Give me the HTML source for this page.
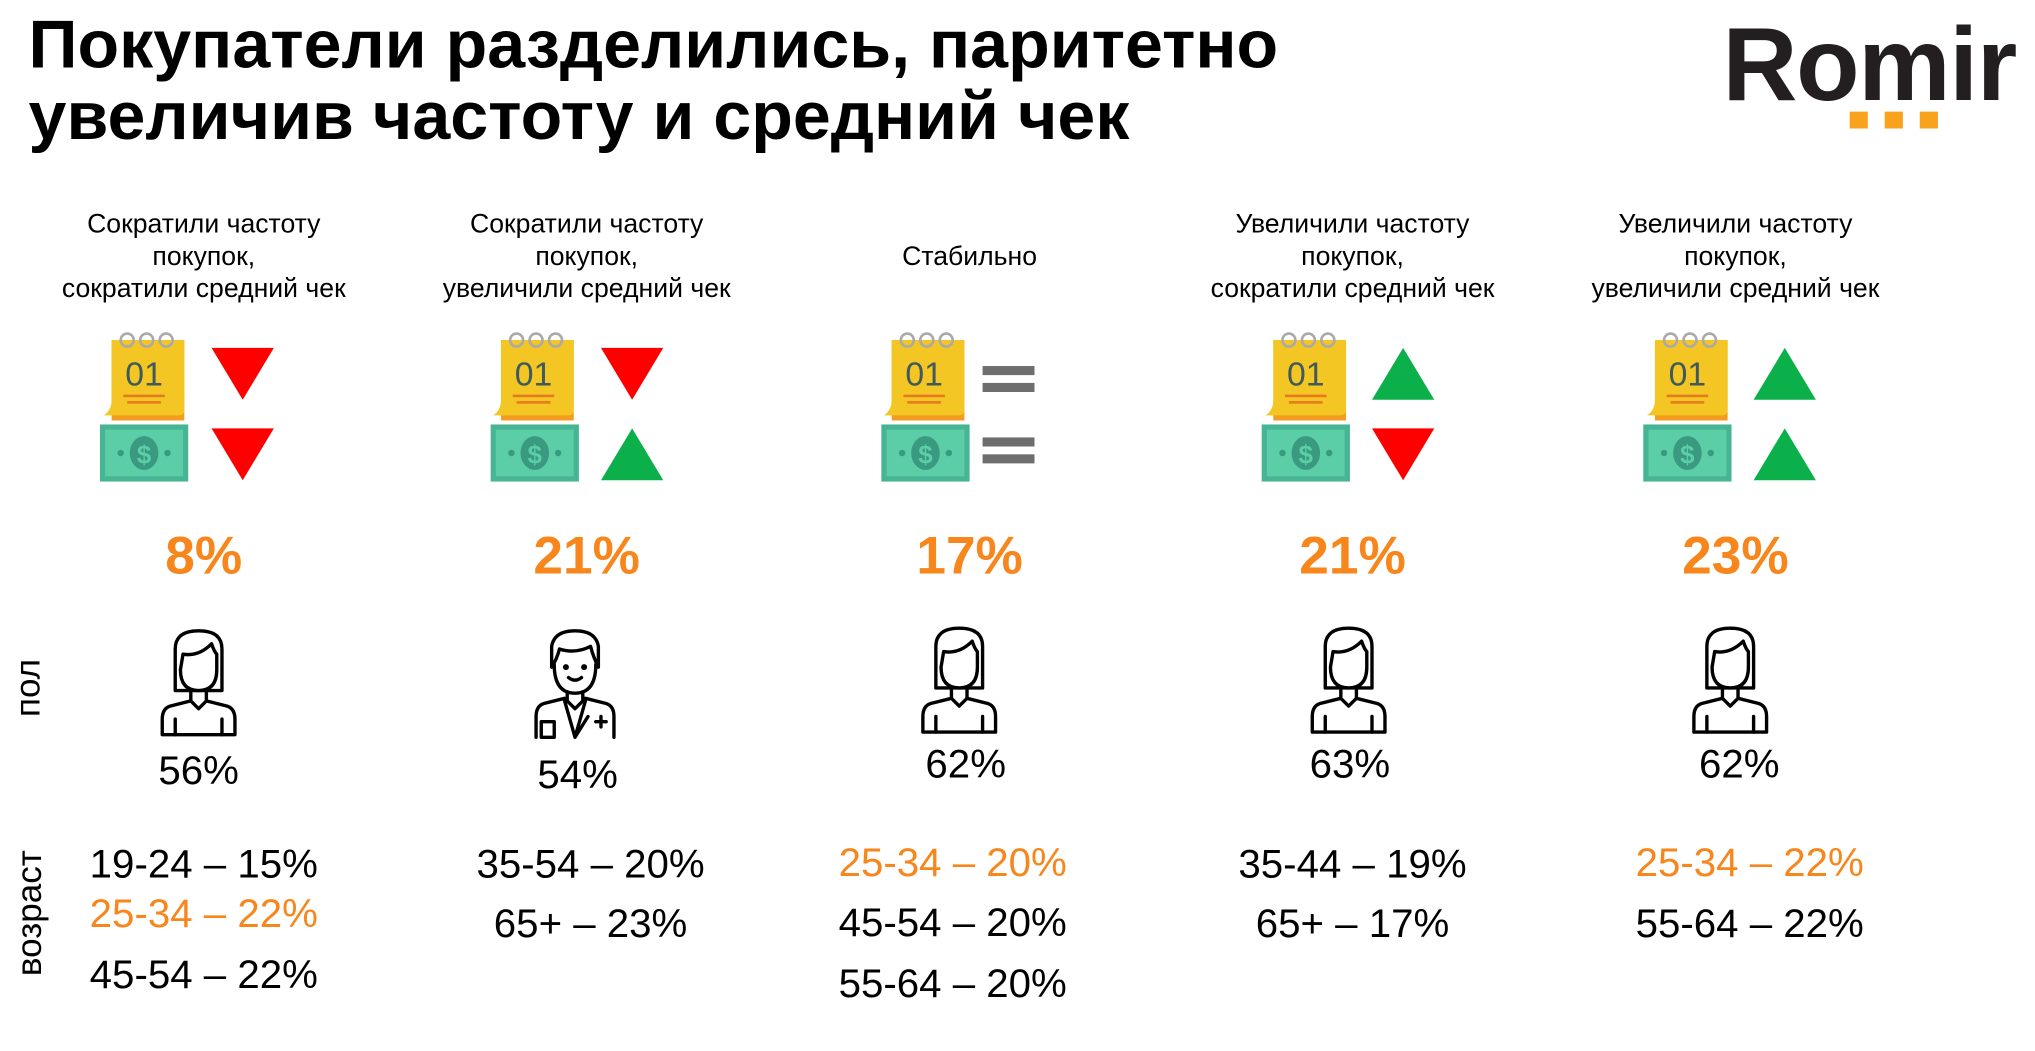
<!DOCTYPE html>
<html><head><meta charset="utf-8"><style>
html,body{margin:0;padding:0;background:#fff;overflow:hidden}
#w{width:2035px;height:1051px;position:relative;overflow:hidden}
#s{position:absolute;left:0;top:0;width:1570px;height:810px;transform:scale(1.298);transform-origin:0 0;font-family:"Liberation Sans","Noto Sans CJK SC",sans-serif;color:#000}
.a{position:absolute;white-space:nowrap}
.t{font-weight:bold;font-size:52.5px;line-height:56px;left:22px}
.h{font-size:20.5px;line-height:25px;text-align:center;width:300px}
.p{font-weight:bold;font-size:41px;color:#F7861C;text-align:center;width:200px}
.g{font-size:31px;text-align:center;width:200px}
.ag{font-size:31px;text-align:center;width:260px;line-height:46px}
.o{color:#F7861C}
</style></head><body><div id="w"><div id="s">
<div class="a t" style="top:7px">Покупатели разделились, паритетно</div>
<div class="a t" style="top:62px">увеличив частоту и средний чек</div>
<div class="a" style="left:1327px;top:4px;font-weight:bold;font-size:80px;color:#231f20;letter-spacing:-1px">Romir</div>
<div class="a" style="left:1425px;top:86px;width:14px;height:13px;background:#F9A21B"></div>
<div class="a" style="left:1452px;top:86px;width:14px;height:13px;background:#F9A21B"></div>
<div class="a" style="left:1479px;top:86px;width:14px;height:13px;background:#F9A21B"></div>

<div class="a" style="left:-8px;top:530px;transform:translate(0,-50%) rotate(-90deg);font-size:27px;width:60px;text-align:center">пол</div>
<div class="a" style="left:-37px;top:688px;transform:rotate(-90deg);font-size:27px;width:120px;text-align:center">возраст</div>

<svg width="0" height="0" style="position:absolute">
<defs>
<g id="cal">
<path d="M8 3 h56 v62 h-56 z" fill="#F39C1F"/>
<path d="M8 3 h56 v54 q0 4 -4 4 h-58 q6 -4 6 -12 z" fill="#F3C623"/>
<circle cx="20" cy="3" r="5" fill="none" stroke="#aaa" stroke-width="2"/>
<circle cx="35" cy="3" r="5" fill="none" stroke="#aaa" stroke-width="2"/>
<circle cx="50" cy="3" r="5" fill="none" stroke="#aaa" stroke-width="2"/>
<text x="33" y="38" font-family="Liberation Sans" font-size="26" fill="#3e5a5c" text-anchor="middle">01</text>
<rect x="17" y="45" width="32" height="2" fill="#E57B1E"/><rect x="20" y="50" width="26" height="2" fill="#E57B1E"/>
</g>
<g id="mon">
<rect x="0" y="0" width="68" height="44" fill="#47B594"/>
<rect x="4" y="4" width="60" height="36" fill="#5BCDA7"/>
<ellipse cx="34" cy="22" rx="11" ry="13" fill="#3A9A80"/>
<text x="34" y="30" font-family="Liberation Sans" font-weight="bold" font-size="20" fill="#5BCDA7" text-anchor="middle">$</text>
<circle cx="16" cy="22" r="2.5" fill="#3A9A80"/><circle cx="52" cy="22" r="2.5" fill="#3A9A80"/>
</g>
<path id="dn" d="M0 0 h48 l-24 40 z" fill="#FF0000"/>
<path id="up" d="M0 40 h48 l-24 -40 z" fill="#0CB04A"/>
<g id="eq"><rect x="0" y="0" width="40" height="7" fill="#6e6e6e"/><rect x="0" y="13" width="40" height="7" fill="#6e6e6e"/></g>
<g id="wom" fill="none" stroke="#000" stroke-width="2.6" stroke-linecap="round" stroke-linejoin="round">
<path d="M12 48 V16 Q12 2 30 2 Q48 2 48 16 V48 Z"/>
<path d="M18 20 Q30 22 40 12 Q42 18 44 20 V32 Q44 48 30 48 Q16 48 16 32 Z" fill="#fff"/>
<path d="M24 48 V56 L30 62 L36 56 V48"/>
<path d="M24 56 L8 60 Q2 62 2 70 V82 H58 V70 Q58 62 52 60 L36 56"/>
<path d="M12 70 V82 M48 70 V82"/>
</g>
<g id="man" fill="none" stroke="#000" stroke-width="2.6" stroke-linecap="round" stroke-linejoin="round">
<path d="M14 30 V14 Q16 2 32 2 Q48 2 50 14 V30 Q46 22 44 14 Q32 20 20 16 Q18 24 14 30 Z"/>
<path d="M16 28 Q16 50 32 50 Q48 50 48 28"/>
<circle cx="25" cy="30" r="1" fill="#000"/><circle cx="39" cy="30" r="1" fill="#000"/>
<path d="M27 38 Q32 42 37 38"/>
<path d="M26 49 V56 L32 62 L38 56 V49"/>
<path d="M24 54 L8 58 Q2 60 2 68 V84 M62 84 V68 Q62 60 56 58 L40 54"/>
<path d="M24 56 L32 84 L40 56 M32 84 L42 68 M6 72 h10 v12 h-10 z M48 72 h8 M52 68 v8"/>
</g>
</defs></svg>

<div class="a h" style="left:7px;top:160px">Сократили частоту<br>покупок,<br>сократили средний чек</div>
<div class="a h" style="left:302px;top:160px">Сократили частоту<br>покупок,<br>увеличили средний чек</div>
<div class="a h" style="left:597px;top:185px">Стабильно</div>
<div class="a h" style="left:892px;top:160px">Увеличили частоту<br>покупок,<br>сократили средний чек</div>
<div class="a h" style="left:1187px;top:160px">Увеличили частоту<br>покупок,<br>увеличили средний чек</div>

<svg class="a" style="left:0;top:0" width="1570" height="810">
<use href="#cal" x="78" y="259"/><use href="#mon" x="77" y="327"/><use href="#dn" x="163" y="268"/><use href="#dn" x="163" y="330"/>
<use href="#cal" x="378" y="259"/><use href="#mon" x="378" y="327"/><use href="#dn" x="463" y="268"/><use href="#up" x="463" y="330"/>
<use href="#cal" x="679" y="259"/><use href="#mon" x="679" y="327"/><use href="#eq" x="757" y="282"/><use href="#eq" x="757" y="337"/>
<use href="#cal" x="973" y="259"/><use href="#mon" x="972" y="327"/><use href="#up" x="1057" y="268"/><use href="#dn" x="1057" y="330"/>
<use href="#cal" x="1267" y="259"/><use href="#mon" x="1266" y="327"/><use href="#up" x="1351" y="268"/><use href="#up" x="1351" y="330"/>
<use href="#wom" x="123" y="484"/>
<use href="#man" x="411" y="484"/>
<use href="#wom" x="709" y="482"/>
<use href="#wom" x="1009" y="482"/>
<use href="#wom" x="1303" y="482"/>
</svg>

<div class="a p" style="left:57px;top:405px">8%</div>
<div class="a p" style="left:352px;top:405px">21%</div>
<div class="a p" style="left:647px;top:405px">17%</div>
<div class="a p" style="left:942px;top:405px">21%</div>
<div class="a p" style="left:1237px;top:405px">23%</div>

<div class="a g" style="left:53px;top:576px">56%</div>
<div class="a g" style="left:345px;top:579px">54%</div>
<div class="a g" style="left:644px;top:571px">62%</div>
<div class="a g" style="left:940px;top:571px">63%</div>
<div class="a g" style="left:1240px;top:571px">62%</div>

<div class="a ag" style="left:27px;top:643px">19-24 – 15%</div>
<div class="a ag o" style="left:27px;top:681px">25-34 – 22%</div>
<div class="a ag" style="left:27px;top:728px">45-54 – 22%</div>
<div class="a ag" style="left:325px;top:643px">35-54 – 20%</div>
<div class="a ag" style="left:325px;top:689px">65+ – 23%</div>
<div class="a ag o" style="left:604px;top:642px">25-34 – 20%</div>
<div class="a ag" style="left:604px;top:688px">45-54 – 20%</div>
<div class="a ag" style="left:604px;top:735px">55-64 – 20%</div>
<div class="a ag" style="left:912px;top:643px">35-44 – 19%</div>
<div class="a ag" style="left:912px;top:689px">65+ – 17%</div>
<div class="a ag o" style="left:1218px;top:642px">25-34 – 22%</div>
<div class="a ag" style="left:1218px;top:689px">55-64 – 22%</div>
</div></div></body></html>
